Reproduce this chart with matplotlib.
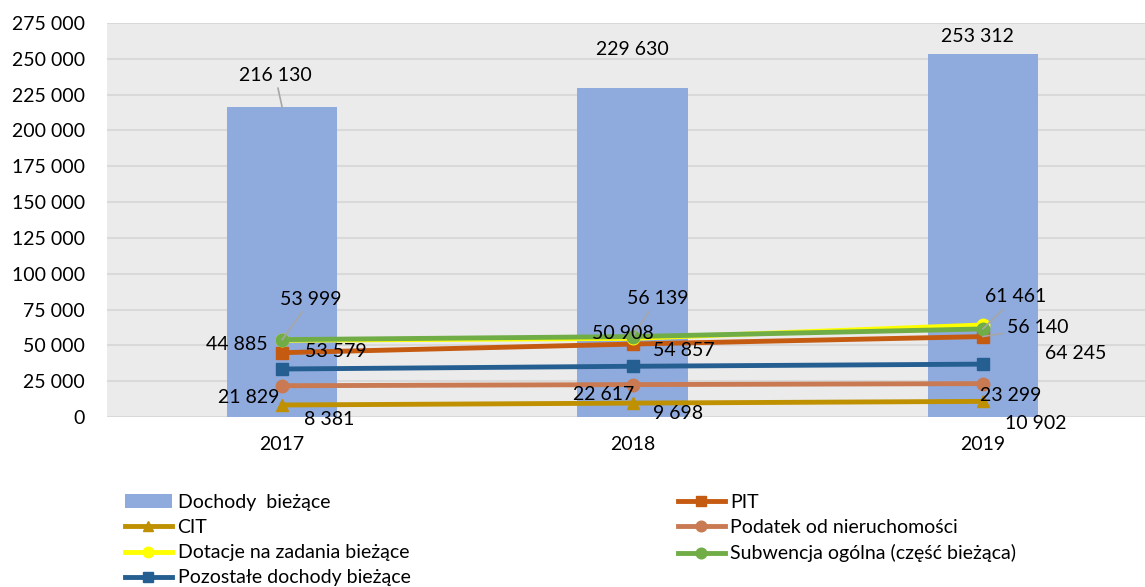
import matplotlib.pyplot as plt
from matplotlib.ticker import FuncFormatter, MultipleLocator

plt.rcParams['font.family'] = ['Lato', 'DejaVu Sans']
plt.rcParams['font.size'] = 14

years = ['2017', '2018', '2019']
dochody = [216130, 229630, 253312]
pit = [44885, 50908, 56140]
cit = [8381, 9698, 10902]
podatek = [21829, 22617, 23299]
dotacje = [53579, 54857, 64245]
subwencja = [53999, 56139, 61461]
pozostale = [33500, 35400, 36900]


def fmt(v, pos=None):
    return f"{int(v):,}".replace(",", " ")


fig = plt.figure(figsize=(11.45, 5.87), dpi=100)
ax = fig.add_axes([107 / 1145, 170 / 587, 1051 / 1145, 394 / 587])
ax.set_facecolor('#ebebeb')
for s in ax.spines.values():
    s.set_visible(False)

x = list(range(len(years)))
bars = ax.bar(x, dochody, width=0.315, color='#8faadc', zorder=2,
              label='Dochody  bieżące')

lw, ms = 3.5, 9
l_pit, = ax.plot(x, pit, color='#c55a11', lw=lw, marker='s', ms=ms, zorder=3, label='PIT')
l_cit, = ax.plot(x, cit, color='#bf9000', lw=lw, marker='^', ms=ms, zorder=3, label='CIT')
l_pod, = ax.plot(x, podatek, color='#c97a52', lw=lw, marker='o', ms=ms, zorder=3,
                 label='Podatek od nieruchomości')
l_dot, = ax.plot(x, dotacje, color='#ffff00', lw=lw, marker='o', ms=ms, zorder=3,
                 label='Dotacje na zadania bieżące')
l_sub, = ax.plot(x, subwencja, color='#70ad47', lw=lw, marker='o', ms=ms, zorder=3,
                 label='Subwencja ogólna (część bieżąca)')
l_poz, = ax.plot(x, pozostale, color='#255e91', lw=lw, marker='s', ms=ms, zorder=3,
                 label='Pozostałe dochody bieżące')

ax.set_xlim(-0.5, 2.5)
ax.set_ylim(0, 275000)
ax.yaxis.set_major_locator(MultipleLocator(25000))
ax.yaxis.set_major_formatter(FuncFormatter(fmt))
ax.grid(axis='y', color='#d9d9d9', lw=1.5, zorder=0)
ax.set_axisbelow(True)
ax.tick_params(axis='both', length=0)
ax.tick_params(axis='y', pad=16)
ax.tick_params(axis='x', pad=14)
ax.set_xticks(x)
ax.set_xticklabels(years)

# label offsets in pixels (dx, dy) and whether a leader line is drawn
label_pos = {
    'bar': [(-7, 32, True), (0, 39, False), (-5, 18, False)],
    'sub': [(29, 40, True), (25, 38, True), (33, 32, True)],
    'pit': [(-45, 8, False), (-10, 11, False), (55, 9, True)],
    'dot': [(54, -11, False), (51, -12, False), (93, -29, False)],
    'pod': [(-33, -12, False), (-29, -10, False), (28, -12, False)],
    'cit': [(47, -15, False), (46, -10, False), (53, -22, False)],
}
series = {'bar': dochody, 'sub': subwencja, 'pit': pit, 'dot': dotacje,
          'pod': podatek, 'cit': cit}

for key, vals in series.items():
    for i, v in enumerate(vals):
        dx, dy, leader = label_pos[key][i]
        kw = {}
        if leader:
            kw['arrowprops'] = dict(arrowstyle='-', color='#a6a6a6', lw=1.2,
                                    shrinkA=1, shrinkB=0)
        ax.annotate(fmt(v), (i, v), xytext=(dx, dy), textcoords='offset pixels',
                    ha='center', va='center', zorder=5, annotation_clip=False, **kw)

leg_kw = dict(frameon=False, borderpad=0, borderaxespad=0, handlelength=2.4,
              handletextpad=0.3, labelspacing=0.42, loc='upper left', fontsize=14,
              markerscale=0.85)
leg1 = fig.legend([bars, l_cit, l_dot, l_poz],
                  ['Dochody  bieżące', 'CIT', 'Dotacje na zadania bieżące',
                   'Pozostałe dochody bieżące'],
                  bbox_to_anchor=(125 / 1145, 1 - 494 / 587), **leg_kw)
leg2 = fig.legend([l_pit, l_pod, l_sub],
                  ['PIT', 'Podatek od nieruchomości', 'Subwencja ogólna (część bieżąca)'],
                  bbox_to_anchor=(678 / 1145, 1 - 494 / 587), **leg_kw)

fig.savefig('out.png', dpi=100)
